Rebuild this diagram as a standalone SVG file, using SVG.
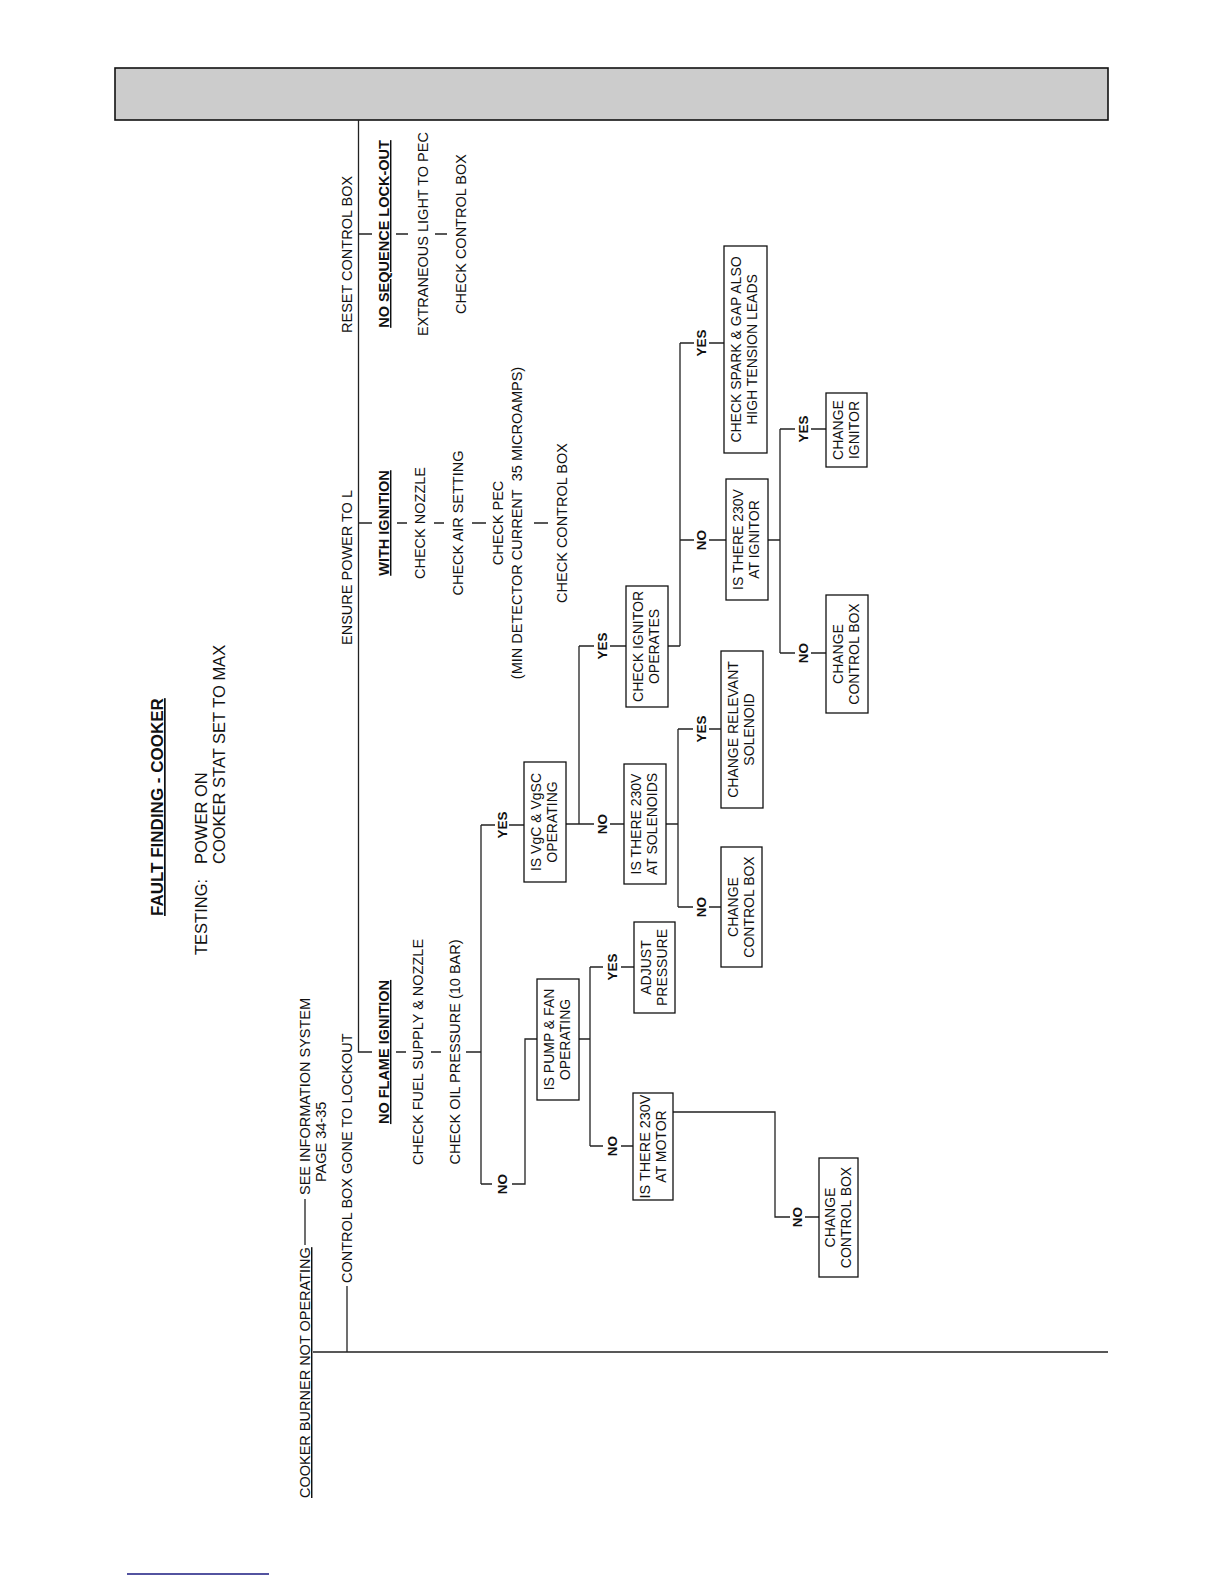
<svg xmlns="http://www.w3.org/2000/svg" width="1224" height="1584" viewBox="0 0 1224 1584">
<style>
.t{font-family:"Liberation Sans",Arial,Helvetica,sans-serif;font-size:14.5px;fill:#111}
.b{font-weight:bold}
.u{text-decoration:underline}
.m{text-anchor:middle}
.bx{font-size:14px;text-anchor:middle}
.yn{font-weight:bold;font-size:13.5px;text-anchor:middle}
.box{fill:#fff;stroke:#111;stroke-width:1.3}
.ln{stroke:#222;stroke-width:1.3;fill:none}
</style>
<rect x="0" y="0" width="1224" height="1584" fill="#fff"/>
<rect x="115" y="68" width="993" height="52" fill="#cccccc" stroke="#111" stroke-width="1.6"/>
<g id="connectors" class="ln">
<path d="M358.5 120 V1052 H372 M358.5 234 H372 M358.5 523 H372"/>
<path d="M396 234 H408 M435 234 H447"/>
<path d="M397 523 H407 M434 523 H444 M472 523 H486 M534 523 H548"/>
<path d="M396 1052 H406 M431 1052 H441 M466 1052 H481"/>
<path d="M481 825 V1184 M481 825 H495 M509 825 H524"/>
<path d="M481 1184 H492 M512 1184 H525 V1039 H537"/>
<path d="M579 1039 H590 M590 967 V1146 M590 967 H603 M621 967 H634 M590 1146 H603 M621 1146 H633"/>
<path d="M673 1112 H775 V1217 H790 M805 1217 H819"/>
<path d="M566 824 H579 M579 646 V824 M579 646 H594 M610 646 H626 M579 824 H594 M610 824 H624"/>
<path d="M666 824 H678 M678 729 V907 M678 729 H693 M709 729 H721 M678 907 H693 M709 907 H721"/>
<path d="M668 646 H680 M680 343 V646 M680 343 H694 M709 343 H724 M680 540 H694 M709 540 H726"/>
<path d="M768 540 H780 M780 429 V653 M780 429 H795 M811 429 H826 M780 653 H795 M811 653 H826"/>
<path d="M305 1245 V1199 M347 1286 V1352 M313 1352 H1108"/>
</g>
<line x1="127" y1="1574" x2="269" y2="1574" stroke="#1a1a80" stroke-width="1.6"/>
<g id="title">
<text class="t b u" style="font-size:17px" transform="translate(163 916) rotate(-90)">FAULT FINDING - COOKER</text>
<text class="t" style="font-size:16.5px" transform="translate(207 955) rotate(-90)">TESTING:</text>
<text class="t" style="font-size:16.5px" transform="translate(207 864) rotate(-90)">POWER ON</text>
<text class="t" style="font-size:16.5px" transform="translate(225 864) rotate(-90)">COOKER STAT SET TO MAX</text>
</g>
<g id="n-cooker">
<text class="t u" transform="translate(310 1498) rotate(-90)">COOKER BURNER NOT OPERATING</text>
<text class="t" transform="translate(310 1195) rotate(-90)">SEE INFORMATION SYSTEM</text>
<text class="t" transform="translate(326 1182) rotate(-90)">PAGE 34-35</text>
</g>
<g id="n-lockout"><text class="t" transform="translate(352 1283) rotate(-90)">CONTROL BOX GONE TO LOCKOUT</text></g>
<g id="n-ensure"><text class="t" transform="translate(352 645) rotate(-90)">ENSURE POWER TO L</text></g>
<g id="n-reset"><text class="t" transform="translate(352 333) rotate(-90)">RESET CONTROL BOX</text></g>
<g id="n-noseq">
<text class="t b u m" transform="translate(389 234) rotate(-90)">NO SEQUENCE LOCK-OUT</text>
<text class="t m" transform="translate(428 234) rotate(-90)">EXTRANEOUS LIGHT TO PEC</text>
<text class="t m" transform="translate(466 234) rotate(-90)">CHECK CONTROL BOX</text>
</g>
<g id="n-withign">
<text class="t b u m" transform="translate(389 523) rotate(-90)">WITH IGNITION</text>
<text class="t m" transform="translate(425 523) rotate(-90)">CHECK NOZZLE</text>
<text class="t m" transform="translate(463 523) rotate(-90)">CHECK AIR SETTING</text>
<text class="t m" transform="translate(503 523) rotate(-90)">CHECK PEC</text>
<text class="t m" transform="translate(522 523) rotate(-90)">(MIN DETECTOR CURRENT&#160; 35 MICROAMPS)</text>
<text class="t m" transform="translate(567 523) rotate(-90)">CHECK CONTROL BOX</text>
</g>
<g id="n-noflame">
<text class="t b u m" transform="translate(389 1052) rotate(-90)">NO FLAME IGNITION</text>
<text class="t m" transform="translate(423 1052) rotate(-90)">CHECK FUEL SUPPLY &amp; NOZZLE</text>
<text class="t m" transform="translate(460 1052) rotate(-90)">CHECK OIL PRESSURE (10 BAR)</text>
</g>
<g id="labels" class="t">
<text class="yn" transform="translate(507 825) rotate(-90)">YES</text>
<text class="yn" transform="translate(507 1184) rotate(-90)">NO</text>
<text class="yn" transform="translate(617 967) rotate(-90)">YES</text>
<text class="yn" transform="translate(617 1146) rotate(-90)">NO</text>
<text class="yn" transform="translate(802 1217) rotate(-90)">NO</text>
<text class="yn" transform="translate(607 824) rotate(-90)">NO</text>
<text class="yn" transform="translate(607 646) rotate(-90)">YES</text>
<text class="yn" transform="translate(706 729) rotate(-90)">YES</text>
<text class="yn" transform="translate(706 907) rotate(-90)">NO</text>
<text class="yn" transform="translate(706 343) rotate(-90)">YES</text>
<text class="yn" transform="translate(706 540) rotate(-90)">NO</text>
<text class="yn" transform="translate(808 429) rotate(-90)">YES</text>
<text class="yn" transform="translate(808 653) rotate(-90)">NO</text>
</g>
<g id="n-pump"><rect class="box" x="537" y="979" width="42" height="121"/>
<text class="t bx" transform="translate(554 1039.5) rotate(-90)">IS PUMP &amp; FAN</text>
<text class="t bx" transform="translate(570 1039.5) rotate(-90)">OPERATING</text></g>
<g id="n-adjust"><rect class="box" x="634" y="922" width="41" height="91"/>
<text class="t bx" transform="translate(651 967.5) rotate(-90)">ADJUST</text>
<text class="t bx" transform="translate(667 967.5) rotate(-90)">PRESSURE</text></g>
<g id="n-motor"><rect class="box" x="633" y="1093" width="40" height="107"/>
<text class="t bx" textLength="104" lengthAdjust="spacingAndGlyphs" transform="translate(650 1146.5) rotate(-90)">IS THERE 230V</text>
<text class="t bx" transform="translate(666 1146.5) rotate(-90)">AT MOTOR</text></g>
<g id="n-ccb1"><rect class="box" x="819" y="1158" width="39" height="119"/>
<text class="t bx" transform="translate(835 1217.5) rotate(-90)">CHANGE</text>
<text class="t bx" transform="translate(851 1217.5) rotate(-90)">CONTROL BOX</text></g>
<g id="n-vgc"><rect class="box" x="524" y="762" width="42" height="120"/>
<text class="t bx" transform="translate(541 822) rotate(-90)">IS VgC &amp; VgSC</text>
<text class="t bx" transform="translate(557 822) rotate(-90)">OPERATING</text></g>
<g id="n-sol"><rect class="box" x="624" y="764" width="42" height="120"/>
<text class="t bx" transform="translate(641 824) rotate(-90)">IS THERE 230V</text>
<text class="t bx" transform="translate(657 824) rotate(-90)">AT SOLENOIDS</text></g>
<g id="n-ccb2"><rect class="box" x="721" y="847" width="41" height="120"/>
<text class="t bx" transform="translate(738 907) rotate(-90)">CHANGE</text>
<text class="t bx" transform="translate(754 907) rotate(-90)">CONTROL BOX</text></g>
<g id="n-relevant"><rect class="box" x="721" y="651" width="42" height="157"/>
<text class="t bx" transform="translate(738 729.5) rotate(-90)">CHANGE RELEVANT</text>
<text class="t bx" transform="translate(754 729.5) rotate(-90)">SOLENOID</text></g>
<g id="n-ignop"><rect class="box" x="626" y="586" width="42" height="121"/>
<text class="t bx" transform="translate(643 646.5) rotate(-90)">CHECK IGNITOR</text>
<text class="t bx" transform="translate(659 646.5) rotate(-90)">OPERATES</text></g>
<g id="n-ign230"><rect class="box" x="726" y="479" width="42" height="121"/>
<text class="t bx" transform="translate(743 539.5) rotate(-90)">IS THERE 230V</text>
<text class="t bx" transform="translate(759 539.5) rotate(-90)">AT IGNITOR</text></g>
<g id="n-ccb3"><rect class="box" x="826" y="595" width="42" height="118"/>
<text class="t bx" transform="translate(843 654) rotate(-90)">CHANGE</text>
<text class="t bx" transform="translate(859 654) rotate(-90)">CONTROL BOX</text></g>
<g id="n-chign"><rect class="box" x="826" y="393" width="41" height="74"/>
<text class="t bx" transform="translate(843 430) rotate(-90)">CHANGE</text>
<text class="t bx" transform="translate(859 430) rotate(-90)">IGNITOR</text></g>
<g id="n-spark"><rect class="box" x="724" y="246" width="43" height="207"/>
<text class="t bx" transform="translate(741 349.5) rotate(-90)">CHECK SPARK &amp; GAP ALSO</text>
<text class="t bx" transform="translate(757 349.5) rotate(-90)">HIGH TENSION LEADS</text></g>
</svg>
